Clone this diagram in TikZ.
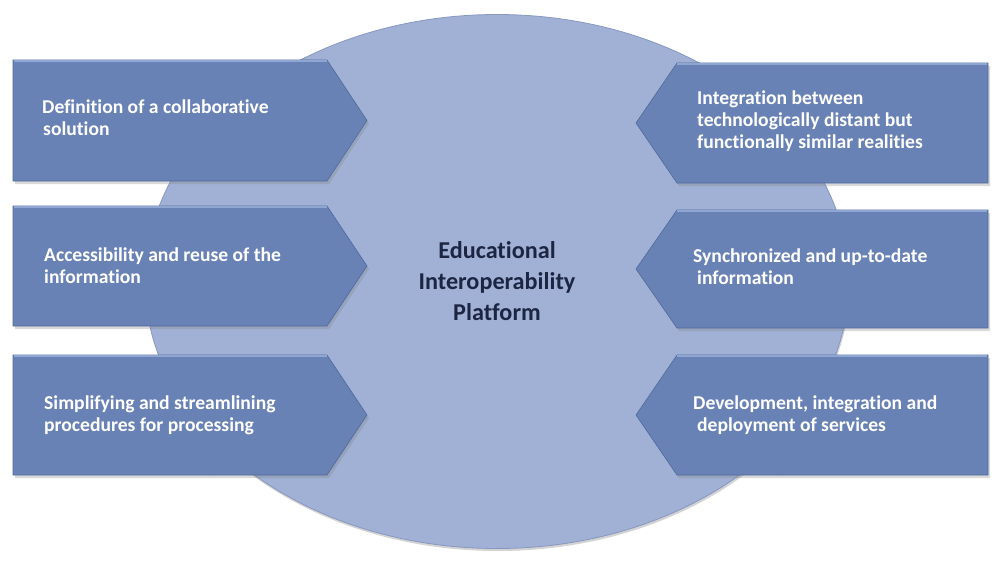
\documentclass[tikz,border=0pt]{standalone}
\usepackage{fontspec}
\setmainfont{Carlito}[Ligatures=NoCommon]
\usetikzlibrary{shadows}
\definecolor{ellfill}{HTML}{A1B1D5}
\definecolor{ellrim}{HTML}{8797C2}
\definecolor{boxfill}{HTML}{6982B6}
\definecolor{boxlight}{HTML}{8FA5D2}
\definecolor{boxdark}{HTML}{506A9C}
\definecolor{centertext}{HTML}{1C2541}
\tikzset{
  ellshape/.style={fill=ellfill, draw=ellrim, line width=0.8pt,
    drop shadow={opacity=0.35, shadow xshift=1pt, shadow yshift=-2.5pt}},
  boxshape/.style={fill=boxfill, draw=boxdark, line width=0.6pt,
    drop shadow={opacity=0.3, shadow xshift=2pt, shadow yshift=-3pt}},
  bevel/.style={draw=boxlight, line width=1.6pt},
  boxtext/.style={text=white, font=\bfseries\fontsize{19.6}{22}\selectfont,
    align=left, anchor=west, inner sep=0pt},
  centertxt/.style={text=centertext, font=\bfseries\fontsize{24.2}{31}\selectfont,
    align=center, inner sep=0pt}
}
\begin{document}
\begin{tikzpicture}[x=1pt,y=-1pt]
\useasboundingbox (0,0) rectangle (997,568);
% central ellipse
\path[ellshape] (497,281.5) ellipse [x radius=352, y radius=267];
\draw[white, opacity=0.5, line width=1.2pt] (497,281.5) ++(150:349) arc [start angle=150, end angle=30, x radius=349, y radius=264];
% left pentagons
\foreach \t/\b in {60/181, 206/326, 355/475}{
  \pgfmathsetmacro{\m}{(\t+\b)/2}
  \path[boxshape] (13,\t) -- (327,\t) -- (367,\m) -- (327,\b) -- (13,\b) -- cycle;
  \draw[bevel] (14,\t+1) -- (327,\t+1);
}
% right pentagons
\foreach \t/\b in {63/183, 210/328, 355/475}{
  \pgfmathsetmacro{\m}{(\t+\b)/2}
  \path[boxshape] (988,\t) -- (677,\t) -- (636,\m) -- (677,\b) -- (988,\b) -- cycle;
  \draw[bevel] (987,\t+1) -- (677,\t+1);
}
% texts
\node[boxtext] (l1) at (42,118) {Definition of a collaborative\\\hspace*{1pt}solution};
\node[boxtext] (l2) at (44,266) {Accessibility and reuse of the\\information};
\node[boxtext] (l3) at (44,415) {Simplifying and streamlining\\procedures for processing};
\node[boxtext] (r1) at (697,121.5) {Integration between\\technologically distant but\\functionally similar realities};
\node[boxtext] (r2) at (693,267) {Synchronized and up-to-date\\\hspace*{4pt}information};
\node[boxtext] (r3) at (693,415) {Development, integration and\\\hspace*{4pt}deployment of services};
\node[centertxt] (c) at (497,281) {Educational\\Interoperability\\Platform};
\end{tikzpicture}
\end{document}
